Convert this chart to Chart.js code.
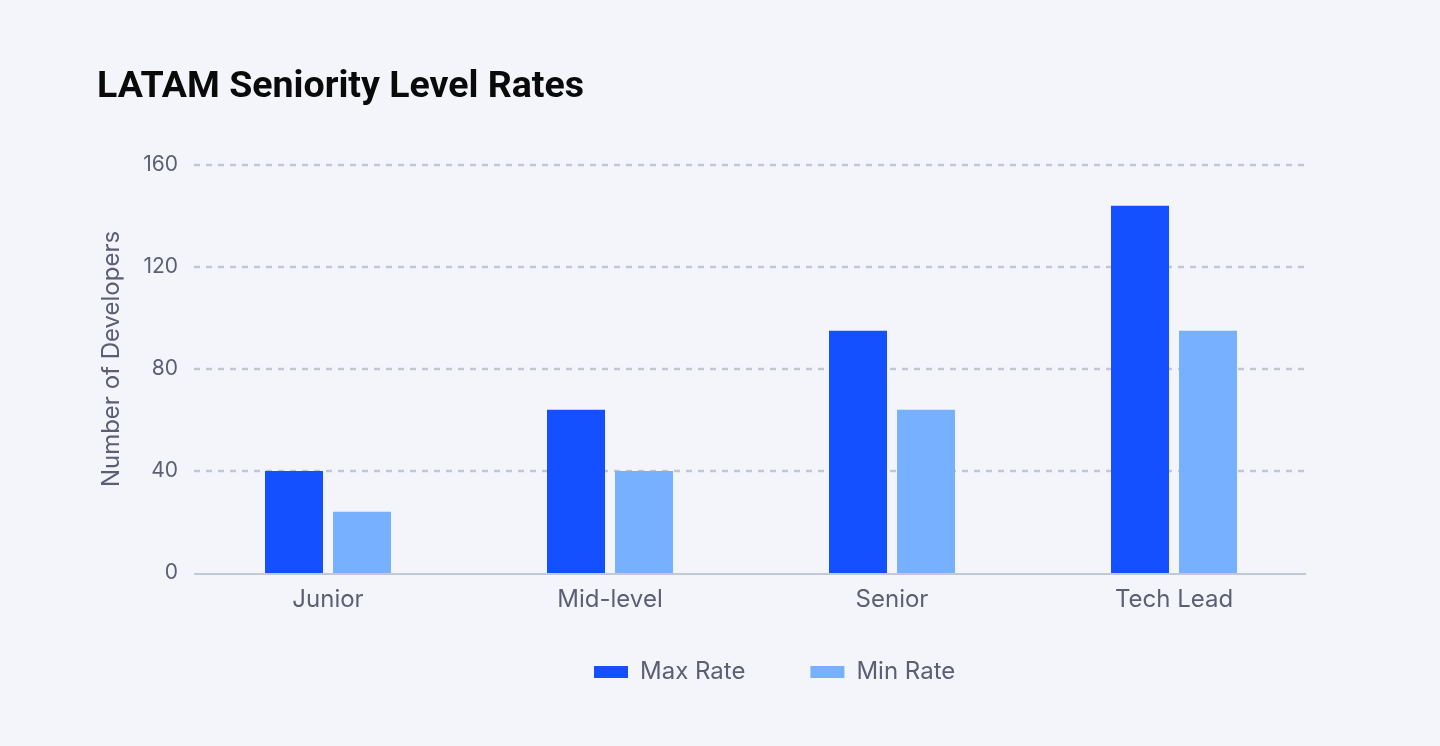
<!DOCTYPE html>
<html><head><meta charset="utf-8">
<script src="https://cdn.jsdelivr.net/npm/chart.js@4.4.1/dist/chart.umd.min.js"></script>
<style>
html,body{margin:0;padding:0;background:#f4f5fa;overflow:hidden;}
#wrap{position:relative;width:1440px;height:746px;}
</style></head><body>
<div id="wrap"><canvas id="c" width="1440" height="746"></canvas></div>
<script>
const categories = ['Junior', 'Mid-level', 'Senior', 'Tech Lead'];
const seriesNames = ['Max Rate', 'Min Rate'];
const maxRate = [40, 64, 95, 144];
const minRate = [24, 40, 64, 95];
const yTicks = [0, 40, 80, 120, 160];
const titleText = 'LATAM Seniority Level Rates';
const yAxisTitle = 'Number of Developers';

const TEXT_GRAY = '#5c5f73';
const GRID_INSET_L = 7, GRID_INSET_R = 9;
const LEGEND_START = 594;
const LEGEND_TOP = 595;
const Y_TITLE_SHIFT = -10;

const gridPlugin = {
  id: 'customGrid',
  beforeDatasetsDraw(chart) {
    const {ctx, chartArea: a, scales: {y}} = chart;
    ctx.save();
    ctx.lineWidth = 2.5;
    ctx.strokeStyle = '#c2c7d5';
    ctx.setLineDash([6, 6]);
    y.ticks.forEach(t => {
      if (t.value === 0) return;
      const py = Math.round(y.getPixelForValue(t.value));
      ctx.beginPath();
      ctx.moveTo(a.left + GRID_INSET_L, py);
      ctx.lineTo(a.right - GRID_INSET_R, py);
      ctx.stroke();
    });
    ctx.restore();
  },
  afterDatasetsDraw(chart) {
    const {ctx, chartArea: a, scales: {y}} = chart;
    const py = Math.round(y.getPixelForValue(0)) + 1;
    ctx.save();
    ctx.lineWidth = 2;
    ctx.strokeStyle = '#c3c8d6';
    ctx.beginPath();
    ctx.moveTo(a.left + GRID_INSET_L, py);
    ctx.lineTo(a.right - GRID_INSET_R, py);
    ctx.stroke();
    ctx.restore();
  },
  afterLayout(chart) {
    const lg = chart.legend;
    if (lg && lg.lineWidths) {
      const pad = lg.options.labels.padding;
      const start = (lg.left + pad + lg.right - lg.lineWidths[0]) / 2;
      const shift = LEGEND_START - start;
      lg.left += shift;
      lg.right += shift;
      lg.top = LEGEND_TOP;
      lg.bottom = chart.height;
      lg.height = lg.bottom - lg.top;
    }
    const ys = chart.scales.y;
    if (ys && !ys._titlePatched) {
      const orig = ys.drawTitle;
      ys.drawTitle = function () {
        const ctx = this.ctx;
        ctx.save();
        ctx.translate(0, Y_TITLE_SHIFT);
        orig.apply(this, arguments);
        ctx.restore();
      };
      ys._titlePatched = true;
    }
  }
};

new Chart(document.getElementById('c'), {
  type: 'bar',
  data: {
    labels: categories,
    datasets: [
      {label: seriesNames[0], data: maxRate, backgroundColor: '#1450ff', categoryPercentage: 136/282, barPercentage: 58/68},
      {label: seriesNames[1], data: minRate, backgroundColor: '#76b0ff', categoryPercentage: 136/282, barPercentage: 58/68}
    ]
  },
  options: {
    responsive: false,
    animation: false,
    devicePixelRatio: 1,
    layout: {padding: {left: 97, right: 125, top: 0, bottom: 0}},
    plugins: {
      title: {
        display: true, text: titleText, align: 'start', color: '#0a0a0a',
        font: {family: 'Roboto', size: 37.5, weight: '700'},
        padding: {top: 65, bottom: 55}
      },
      legend: {
        position: 'bottom', align: 'center', maxHeight: 60,
        labels: {
          color: TEXT_GRAY, font: {family: 'Inter', size: 24},
          boxWidth: 34, boxHeight: 12, padding: 65
        }
      },
      tooltip: {enabled: false}
    },
    scales: {
      x: {
        grid: {display: false, drawTicks: false},
        border: {display: false},
        ticks: {color: TEXT_GRAY, font: {family: 'Inter', size: 24}, padding: 12},
        afterFit(s) { s.height = 113; }
      },
      y: {
        min: 0, max: 160,
        afterBuildTicks(s) { s.ticks = yTicks.map(v => ({value: v})); },
        grid: {display: false, drawTicks: false},
        border: {display: false},
        ticks: {color: TEXT_GRAY, font: {family: 'Inter', size: 21}, padding: 9},
        title: {display: true, text: yAxisTitle, color: TEXT_GRAY, font: {family: 'Inter', size: 24}, padding: 0},
        afterFit(s) { s.width = 90; }
      }
    }
  },
  plugins: [gridPlugin]
});
</script>
</body></html>
